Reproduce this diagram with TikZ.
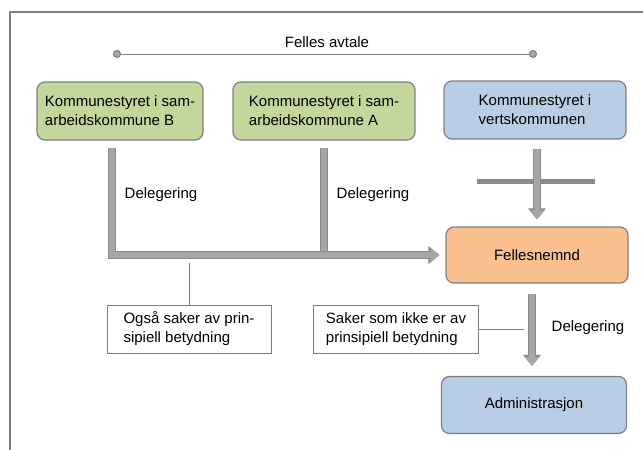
\documentclass[tikz,border=0pt]{standalone}
\usepackage{fontspec}
\setmainfont{Liberation Sans}
\usetikzlibrary{arrows.meta}

\definecolor{kgreen}{HTML}{C3D69B}
\definecolor{kblue}{HTML}{B9CDE5}
\definecolor{korange}{HTML}{FAC090}
\definecolor{kborder}{HTML}{7F7F7F}
\definecolor{barfill}{HTML}{A6A6A6}
\definecolor{bardark}{HTML}{8A8A8A}

\begin{document}
\begin{tikzpicture}[x=1pt,y=-1pt,font=\fontsize{15}{19}\selectfont,
		box node/.style={rectangle,rounded corners=8pt,draw=kborder,line width=1.2pt,align=left,minimum height=58pt,inner sep=0pt},
		green node/.style={box node,fill=kgreen},
		blue node/.style={box node,fill=kblue},
		orange node/.style={box node,fill=korange},
		note node/.style={rectangle,draw=kborder,line width=1pt,fill=white,align=left,minimum height=48pt,inner sep=0pt},
		block bar/.style={draw=bardark,line width=8pt,line join=miter,postaction={draw=barfill,line width=6pt}},
		block arrow/.style={draw=bardark,line width=8pt,line join=miter,-{Triangle[width=17pt,length=11pt]},
			postaction={draw=barfill,line width=6pt,-{Triangle[width=14.5pt,length=9pt]}}},
		cross bar/.style={draw=bardark,line width=5pt},
		thin line/.style={draw=kborder,line width=1pt}]

		\useasboundingbox (0,0) rectangle (643,450);
		\draw[thin line,line width=1.3pt] (10,450) -- (10,12) -- (643,12);

		\node (avtale) at (327,42) {Felles avtale};
		\coordinate (dotL) at (113,54);
		\coordinate (dotR) at (537,54);

		\node[green node,minimum width=166pt] (komB) at (120,111) {Kommunestyret i sam-\\arbeidskommune B};
		\node[green node,minimum width=182pt] (komA) at (324,111) {Kommunestyret i sam-\\arbeidskommune A};
		\node[blue node,minimum width=182pt] (vert) at (535,110) {Kommunestyret i\\vertskommunen};
		\node[orange node,minimum width=182pt,minimum height=56pt] (nemnd) at (537,255) {Fellesnemnd};
		\node[blue node,minimum width=185pt,minimum height=57pt] (admin) at (534,405) {Administrasjon};

		\node[note node,minimum width=164pt] (noteA) at (189,329) {Også saker av prin-\\sipiell betydning};
		\node[note node,minimum width=165pt] (noteB) at (396,329) {Saker som ikke er av\\prinsipiell betydning};

		\node (delB) at (161,195) {Delegering};
		\node (delA) at (373,195) {Delegering};
		\node (delN) at (588,328) {Delegering};

		\coordinate (crossL) at (477,181);
		\coordinate (crossR) at (595,181);
		\coordinate (hookA) at (189,263);
		\coordinate (hookB) at (524,329);

		\draw[thin line,{Circle[length=8pt,fill=barfill]}-{Circle[length=8pt,fill=barfill]}] (dotL) -- (dotR);

		\draw[block bar] ([yshift=-7pt]komA.south) -- (komA.south |- nemnd.west);
		\draw[block arrow] ([xshift=-8pt,yshift=-7pt]komB.south) |- ([xshift=-6pt]nemnd.west);
		\draw[cross bar] (crossL) -- (crossR);
		\draw[block arrow] ([xshift=2pt,yshift=-9pt]vert.south) -- ([yshift=7pt]nemnd.north);
		\draw[block arrow] ([xshift=-5pt,yshift=-10pt]nemnd.south) -- ([xshift=-2pt,yshift=10pt]admin.north);

		\draw[thin line] (noteA) -- (hookA);
		\draw[thin line] (noteB) -- (hookB);
	\end{tikzpicture}
\end{document}
